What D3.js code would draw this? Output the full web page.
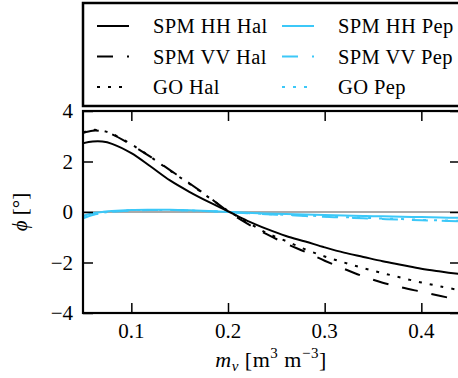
<!DOCTYPE html>
<html>
<head>
<meta charset="utf-8">
<script src="https://cdn.jsdelivr.net/npm/d3@7"></script>
<style>
  body { margin: 0; background: #fff; overflow: hidden; }
  svg { display: block; }
  text { font-family: "Liberation Serif", "Times New Roman", serif; fill: #000; }
</style>
</head>
<body>
<div class="chart"></div>
<script>
(function() {

  var width = 458, height = 378

  // soil moisture values (x)
  var mv = [0.05, 0.06, 0.07, 0.08, 0.10, 0.12, 0.14, 0.16, 0.18, 0.20, 0.22,
            0.24, 0.26, 0.28, 0.30, 0.32, 0.34, 0.36, 0.38, 0.40, 0.42, 0.44]

  // phase difference in degrees
  var spmHHHal = [2.72, 2.79, 2.79, 2.70, 2.33, 1.80, 1.25, 0.80, 0.40, 0.03, -0.35,
                  -0.67, -0.95, -1.17, -1.40, -1.61, -1.78, -1.95, -2.10, -2.25, -2.36, -2.46]
  var spmVVHal = [3.13, 3.22, 3.20, 3.08, 2.66, 2.18, 1.66, 1.14, 0.60, 0.02, -0.46,
                  -0.88, -1.25, -1.58, -1.93, -2.25, -2.55, -2.80, -2.99, -3.16, -3.33, -3.48]
  var goHal    = [3.16, 3.25, 3.22, 3.10, 2.68, 2.18, 1.64, 1.12, 0.58, 0.05, -0.40,
                  -0.83, -1.15, -1.48, -1.76, -2.00, -2.22, -2.42, -2.61, -2.79, -2.95, -3.10]
  var spmHHPep = [-0.15, -0.05, 0.00, 0.04, 0.08, 0.09, 0.09, 0.07, 0.04, 0.00, -0.03,
                  -0.06, -0.08, -0.10, -0.12, -0.14, -0.16, -0.17, -0.19, -0.20, -0.22, -0.23]
  var spmVVPep = [-0.25, -0.12, -0.04, 0.01, 0.06, 0.08, 0.08, 0.06, 0.03, 0.00, -0.05,
                  -0.09, -0.12, -0.16, -0.19, -0.22, -0.25, -0.28, -0.30, -0.33, -0.35, -0.37]
  var goPep    = [-0.22, -0.10, -0.03, 0.02, 0.07, 0.08, 0.08, 0.06, 0.03, 0.00, -0.04,
                  -0.08, -0.11, -0.14, -0.17, -0.20, -0.23, -0.26, -0.28, -0.31, -0.33, -0.35]

  var xTicks = [0.1, 0.2, 0.3, 0.4]
  var yTicks = [-4, -2, 0, 2, 4]

  var labels = ["SPM HH Hal", "SPM VV Hal", "GO Hal", "SPM HH Pep", "SPM VV Pep", "GO Pep"]

  var black = "#000"
  var cyan = "#3cc8f8"
  var dashes = [null, "16,14", "3,8"]

  var series = [
    { name: labels[0], values: spmHHHal, color: black, dash: dashes[0] },
    { name: labels[1], values: spmVVHal, color: black, dash: dashes[1] },
    { name: labels[2], values: goHal,    color: black, dash: dashes[2] },
    { name: labels[3], values: spmHHPep, color: cyan,  dash: dashes[0] },
    { name: labels[4], values: spmVVPep, color: cyan,  dash: dashes[1] },
    { name: labels[5], values: goPep,    color: cyan,  dash: dashes[2] }
  ]

  var plot = { left: 83, right: 460, top: 111, bottom: 313 }

  var svg = d3.select(".chart")
              .append("svg")
              .attr("width", width)
              .attr("height", height)

  var xScale = d3.scaleLinear()
                 .domain([0.05, 0.44])
                 .range([plot.left, plot.right])

  var yScale = d3.scaleLinear()
                 .domain([-4, 4])
                 .range([plot.bottom, plot.top])

  svg.append("clipPath")
     .attr("id", "plotclip")
     .append("rect")
     .attr("x", plot.left)
     .attr("y", plot.top)
     .attr("width", plot.right - plot.left)
     .attr("height", plot.bottom - plot.top)

  // zero reference line
  svg.append("line")
     .attr("x1", xScale(0.05))
     .attr("x2", xScale(0.44))
     .attr("y1", yScale(0))
     .attr("y2", yScale(0))
     .attr("stroke", "#aaaaaa")
     .attr("stroke-width", 2)

  var line = d3.line()
               .x(function(d) { return xScale(d[0]) })
               .y(function(d) { return yScale(d[1]) })
               .curve(d3.curveCatmullRom.alpha(0.5))

  // cyan first so black sits on top
  var order = [3, 4, 5, 0, 1, 2]
  svg.append("g")
     .attr("clip-path", "url(#plotclip)")
     .selectAll("path")
     .data(order.map(function(i) { return series[i] }))
     .enter()
     .append("path")
     .attr("d", function(s) { return line(mv.map(function(x, i) { return [x, s.values[i]] })) })
     .attr("fill", "none")
     .attr("stroke", function(s) { return s.color })
     .attr("stroke-width", 2)
     .attr("stroke-dasharray", function(s) { return s.dash })

  // axes: ticks pointing inward on all four sides
  var tickLen = 10
  var bottomAxis = d3.axisTop(xScale).tickValues(xTicks).tickSize(tickLen).tickFormat("")
  var topAxis = d3.axisBottom(xScale).tickValues(xTicks).tickSize(tickLen).tickFormat("")
  var leftAxis = d3.axisRight(yScale).tickValues(yTicks).tickSize(tickLen).tickFormat("")
  var rightAxis = d3.axisLeft(yScale).tickValues(yTicks).tickSize(tickLen).tickFormat("")

  function styleAxis(g) {
    g.select(".domain").remove()
    g.selectAll(".tick line").attr("stroke", "#000").attr("stroke-width", 1.5)
  }

  svg.append("g").attr("transform", "translate(0," + plot.bottom + ")").call(bottomAxis).call(styleAxis)
  svg.append("g").attr("transform", "translate(0," + plot.top + ")").call(topAxis).call(styleAxis)
  svg.append("g").attr("transform", "translate(" + plot.left + ",0)").call(leftAxis).call(styleAxis)
  svg.append("g").attr("transform", "translate(" + plot.right + ",0)").call(rightAxis).call(styleAxis)

  svg.append("rect")
     .attr("x", plot.left)
     .attr("y", plot.top)
     .attr("width", plot.right - plot.left)
     .attr("height", plot.bottom - plot.top)
     .attr("fill", "none")
     .attr("stroke", "#000")
     .attr("stroke-width", 2.2)

  // tick labels
  svg.selectAll(".xlab")
     .data(xTicks)
     .enter()
     .append("text")
     .attr("class", "xlab")
     .attr("x", function(d) { return xScale(d) })
     .attr("y", 338)
     .attr("text-anchor", "middle")
     .attr("font-size", "21px")
     .text(function(d) { return d3.format(".1f")(d) })

  svg.selectAll(".ylab")
     .data(yTicks)
     .enter()
     .append("text")
     .attr("class", "ylab")
     .attr("x", 73)
     .attr("y", function(d) { return yScale(d) + 7 })
     .attr("text-anchor", "end")
     .attr("font-size", "21px")
     .text(function(d) { return d < 0 ? "\u2212" + Math.abs(d) : "" + d })

  // axis titles
  var xTitle = svg.append("text")
                  .attr("x", 271)
                  .attr("y", 367)
                  .attr("text-anchor", "middle")
                  .attr("font-size", "22px")
                  .attr("letter-spacing", "0.5px")
  xTitle.append("tspan").attr("font-style", "italic").text("m")
  xTitle.append("tspan").attr("font-style", "italic").attr("font-size", "15px").attr("dy", 4).text("v")
  xTitle.append("tspan").attr("dy", -4).text(" [m")
  xTitle.append("tspan").attr("font-size", "15px").attr("dy", -9).text("3")
  xTitle.append("tspan").attr("dy", 9).text(" m")
  xTitle.append("tspan").attr("font-size", "15px").attr("dy", -9).text("\u22123")
  xTitle.append("tspan").attr("dy", 9).text("]")

  var yTitle = svg.append("text")
                  .attr("transform", "translate(27," + yScale(0) + ") rotate(-90)")
                  .attr("text-anchor", "middle")
                  .attr("font-size", "21px")
  yTitle.append("tspan").attr("font-style", "italic").text("\u03d5")
  yTitle.append("tspan").text(" [\u00b0]")

  // legend
  var legend = svg.append("g")

  legend.append("rect")
        .attr("x", 83)
        .attr("y", 3)
        .attr("width", 400)
        .attr("height", 103)
        .attr("fill", "#fff")
        .attr("stroke", "#000")
        .attr("stroke-width", 2.5)

  var keys = legend.selectAll(".key")
                   .data(series)
                   .enter()
                   .append("g")
                   .attr("class", "key")
                   .attr("transform", function(d, i) {
                     var col = Math.floor(i / 3), row = i % 3
                     return "translate(" + (97 + col * 185) + "," + (26 + row * 30.5) + ")"
                   })

  keys.append("line")
      .attr("x1", 0)
      .attr("x2", 32)
      .attr("stroke", function(d) { return d.color })
      .attr("stroke-width", 2)
      .attr("stroke-dasharray", function(d) { return d.dash })

  keys.append("text")
      .attr("x", 56)
      .attr("y", 7)
      .attr("font-size", "20.5px")
      .attr("letter-spacing", "0.4px")
      .text(function(d) { return d.name })

}())
</script>
</body>
</html>
